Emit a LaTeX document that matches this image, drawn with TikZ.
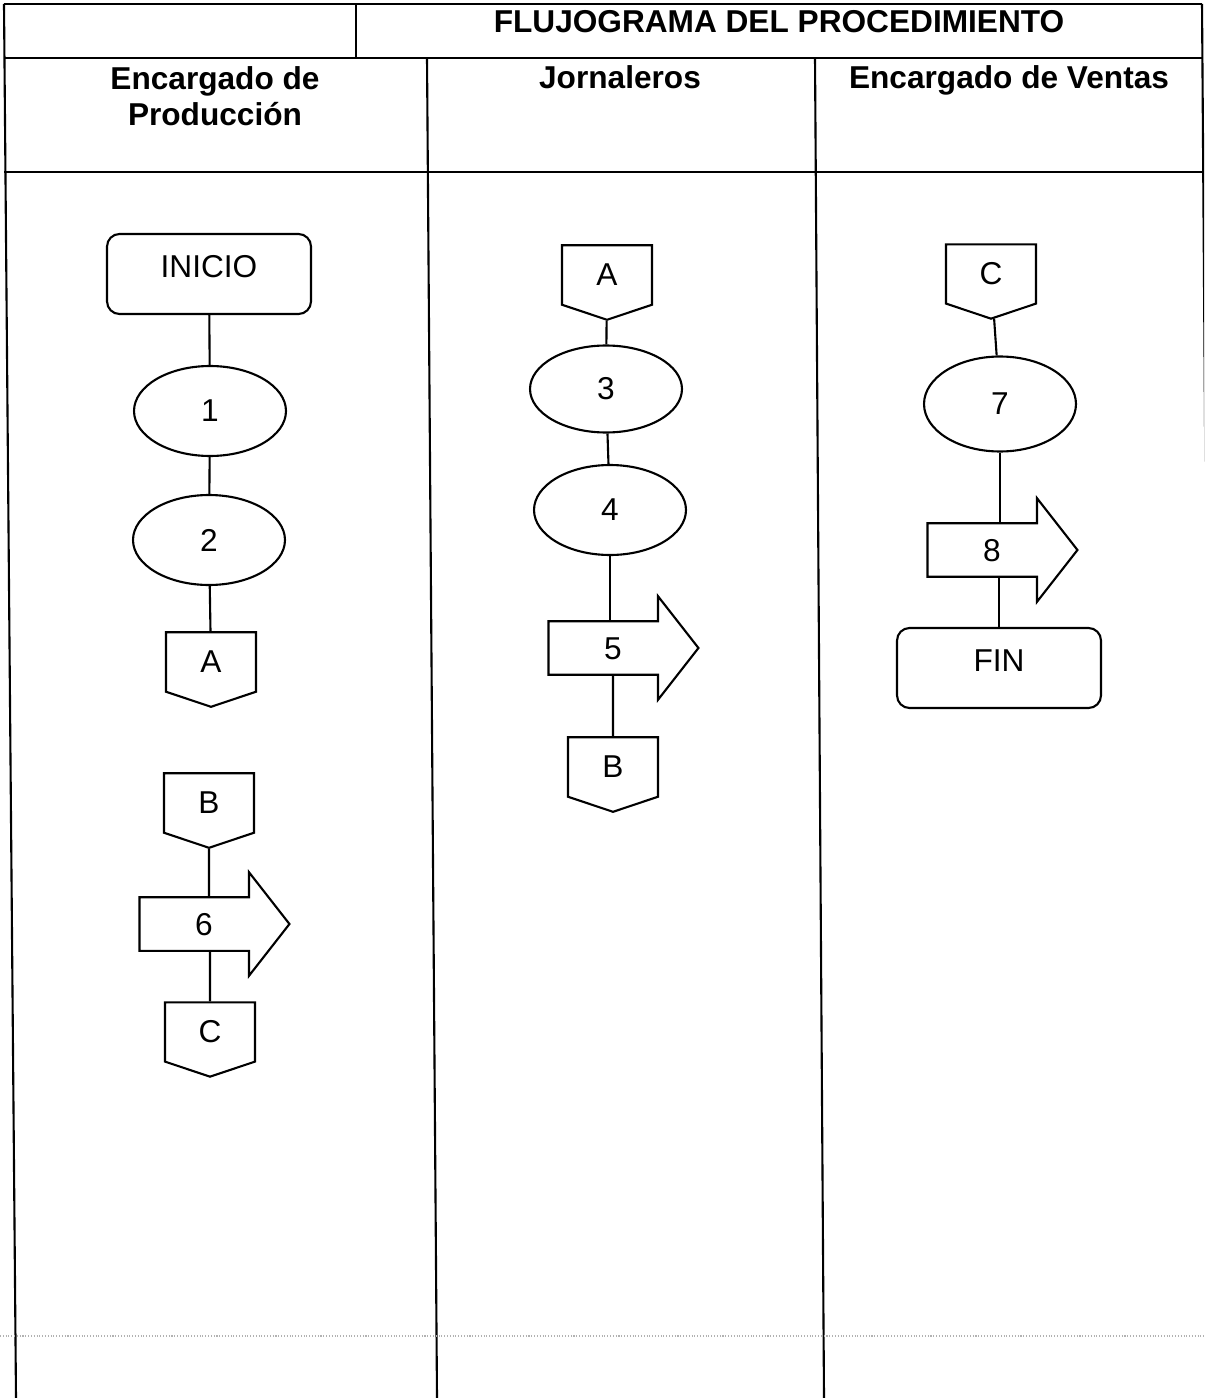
\documentclass[tikz,border=0pt]{standalone}
\usepackage{fontspec}
\setmainfont{Liberation Sans}
\usetikzlibrary{shapes.geometric,shapes.symbols,shapes.arrows}
\tikzset{
  proc/.style={ellipse,draw,minimum width=3.04cm,minimum height=1.8cm},
  term/.style={draw,rounded corners=0.25cm,minimum width=4.08cm,minimum height=1.6cm,text height=0.45cm,text depth=0.3cm},
  pagecon/.style={signal,signal to=south,signal from=nowhere,signal pointer angle=143,draw,minimum width=1.8cm,minimum height=1.3cm},
  move/.style={single arrow,draw,single arrow head extend=0.5cm,single arrow tip angle=104,minimum height=3cm,text height=0.45cm,text depth=0cm,inner ysep=0.29cm},
  lane/.style={font=\fontsize{18}{20.5}\selectfont\bfseries}
}
\begin{document}
\begin{tikzpicture}[x=0.02cm,y=-0.02cm,line width=1.2pt,font=\fontsize{18}{21.6}\selectfont]
\useasboundingbox (0,0) rectangle (1204,1398);
\clip (0,0) rectangle (1204,1398);
\draw (4,4) -- (1202,4) (4,58) -- (1202,58) (4,172) -- (1202,172) (356,4) -- (356,58);
\draw (4,4) -- (16,1398) (1202,4) -- (1212,1398);
\draw (427,58) -- (437,1398) (815,58) -- (824,1398);
\draw[gray!60,densely dotted,line width=0.6pt] (0,1336) -- (1204,1336);
\node[lane] (title) at (779,22) {FLUJOGRAMA DEL PROCEDIMIENTO};
\node[lane,align=center] (hp) at (215,96) {Encargado de\\Producción};
\node[lane,anchor=base] (hj) at (620,89) {Jornaleros};
\node[lane,anchor=base] (hv) at (1009,89) {Encargado de Ventas};
\node[term] (ini) at (209,274) {INICIO};
\node[proc] (p1) at (210,411) {1};
\node[proc] (p2) at (209,540) {2};
\node[pagecon] (ca1) at (211,662) {A};
\node[pagecon] (cb1) at (209,803) {B};
\node[move] (m6) at (204,924) {6};
\node[pagecon] (cc1) at (210,1032) {C};
\node[pagecon] (ca2) at (607,275) {A};
\node[proc,minimum height=1.74cm] (p3) at (606,389) {3};
\node[proc] (p4) at (610,510) {4};
\node[move] (m5) at (613,648) {5};
\node[pagecon] (cb2) at (613,767) {B};
\node[pagecon] (cc2) at (991,274) {C};
\node[proc,minimum height=1.9cm] (p7) at (1000,404) {7};
\node[move] (m8) at (992,550) {8};
\node[term] (fin) at (999,668) {FIN};
\foreach \a/\b in {ini/p1,p1/p2,p2/ca1,ca2/p3,p3/p4,cc2/p7}
  \draw (\a) -- (\b);
\draw (cb1) -- (cb1 |- m6.north);
\draw (m6.south -| cc1) -- (cc1);
\draw (p4) -- (p4 |- m5.north);
\draw (m5.south -| cb2) -- (cb2);
\draw (p7) -- (p7 |- m8.north);
\draw (m8.south -| fin) -- (fin);
\end{tikzpicture}
\end{document}
